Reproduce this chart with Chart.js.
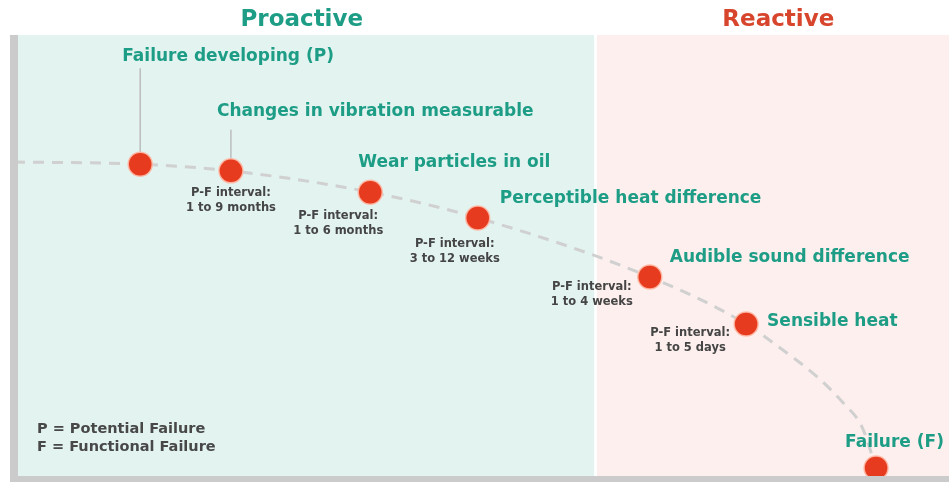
<!DOCTYPE html>
<html>
<head>
<meta charset="utf-8">
<script src="https://cdn.jsdelivr.net/npm/chart.js@4.4.1/dist/chart.umd.min.js"></script>
<style>
html, body { margin: 0; padding: 0; background: #fff; overflow: hidden; }
#pf { display: block; }
</style>
</head>
<body>
<canvas id="pf" width="949" height="482"></canvas>
<script>
// P-F curve, time runs 0-100 left to right, condition 0-100 bottom to top
const stageX = [13.5, 23.2, 38.1, 49.6, 68.0, 78.3, 92.2];
const stageY = [70.9, 69.4, 64.6, 58.8, 45.5, 34.9, 2.5];
const stageNames = ['Failure developing (P)', 'Changes in vibration measurable', 'Wear particles in oil',
  'Perceptible heat difference', 'Audible sound difference', 'Sensible heat', 'Failure (F)'];
const pfIntervals = [null, '1 to 9 months', '1 to 6 months', '3 to 12 weeks', '1 to 4 weeks', '1 to 5 days', null];
// dashed curve (stages plus a few points between them)
const curveX = [0, 13.5, 23.2, 38.1, 49.6, 68.0, 78.3, 82.2, 85.9, 88.7, 90.7, 92.2];
const curveY = [71.4, 70.9, 69.4, 64.6, 58.8, 45.5, 34.9, 29.1, 23.0, 17.1, 11.7, 2.5];
const phaseNames = ['Proactive', 'Reactive'];
const phaseFrom = [0, 62.2];
const phaseTo = [62.2, 100];
const legendLines = ['P = Potential Failure', 'F = Functional Failure'];

// layout / styling (px offsets from each point)
const TEAL = '#1d9d85';
const phaseFill = ['#e2f3f0', '#fcefed'];
const phaseInk = [TEAL, '#d7452c'];
const titleShift = [-3, 6];
const nameOffset = [[-18, -108], [-14, -59], [-12, -30], [22, -19], [20, -19], [21, -2], [-31, -25]];
const intervalOffset = [null, [0, 22], [-32, 24], [-23, 26], [-58, 10], [-56, 9], null];
const connector = [[-96, -12], [-41, -12], null, null, null, null, null];

const curve = curveX.map((x, i) => ({ x, y: curveY[i] }));
const stages = stageX.map((x, i) => ({ x, y: stageY[i] }));

const decor = {
  id: 'decor',
  beforeDraw(chart) {
    const { ctx, chartArea: a, scales: { x } } = chart;
    ctx.save();
    phaseNames.forEach((name, i) => {
      const l = x.getPixelForValue(phaseFrom[i]), r = x.getPixelForValue(phaseTo[i]);
      ctx.fillStyle = phaseFill[i];
      ctx.fillRect(l + (i ? 1.5 : 0), a.top, r - l - 1.5, a.bottom - a.top);
      ctx.fillStyle = phaseInk[i];
      ctx.font = 'bold 23px "DejaVu Sans"';
      ctx.textAlign = 'center';
      ctx.textBaseline = 'middle';
      ctx.fillText(name, (l + r) / 2 + titleShift[i], 20);
    });
    ctx.restore();
  },
  beforeDatasetsDraw(chart) {
    const { ctx, scales: { x, y } } = chart;
    ctx.save();
    ctx.strokeStyle = '#bdbdbd';
    ctx.lineWidth = 1.5;
    connector.forEach((c, i) => {
      if (!c) return;
      const px = x.getPixelForValue(stageX[i]), py = y.getPixelForValue(stageY[i]);
      ctx.beginPath();
      ctx.moveTo(px, py + c[0]);
      ctx.lineTo(px, py + c[1]);
      ctx.stroke();
    });
    ctx.restore();
  },
  afterDatasetsDraw(chart) {
    const { ctx, chartArea: a, scales: { x, y } } = chart;
    ctx.save();
    // axis bars
    ctx.fillStyle = '#cbcbcb';
    ctx.fillRect(a.left - 4, a.top, 8, a.bottom - a.top);
    ctx.fillRect(a.left - 4, a.bottom - 3, a.right - a.left + 4, 7);
    ctx.textBaseline = 'middle';
    stageNames.forEach((name, i) => {
      const px = x.getPixelForValue(stageX[i]), py = y.getPixelForValue(stageY[i]);
      ctx.fillStyle = TEAL;
      ctx.font = 'bold 17px "DejaVu Sans"';
      ctx.textAlign = 'left';
      ctx.fillText(name, px + nameOffset[i][0], py + nameOffset[i][1]);
      if (pfIntervals[i]) {
        const o = intervalOffset[i];
        ctx.fillStyle = '#454545';
        ctx.font = 'bold 11.5px "DejaVu Sans"';
        ctx.textAlign = 'center';
        ctx.fillText('P-F interval:', px + o[0], py + o[1]);
        ctx.fillText(pfIntervals[i], px + o[0], py + o[1] + 15);
      }
    });
    ctx.fillStyle = '#484848';
    ctx.font = 'bold 14.5px "DejaVu Sans"';
    ctx.textAlign = 'left';
    legendLines.forEach((t, i) => ctx.fillText(t, 37, 429 + i * 18));
    ctx.restore();
  }
};

new Chart(document.getElementById('pf'), {
  type: 'line',
  data: {
    datasets: [
      {
        label: 'Stages', data: stages, showLine: false, clip: false,
        pointRadius: 12, pointHoverRadius: 12,
        pointBackgroundColor: '#e63b1e', pointBorderColor: 'rgba(255,185,165,0.9)', pointBorderWidth: 1.5
      },
      {
        label: 'P-F curve', data: curve, pointRadius: 0,
        borderColor: '#d0d0d0', borderWidth: 3, borderDash: [11, 8],
        cubicInterpolationMode: 'monotone', fill: false
      }
    ]
  },
  options: {
    responsive: false,
    animation: false,
    layout: { autoPadding: false, padding: { left: 14, top: 35, right: 0, bottom: 3 } },
    plugins: { legend: { display: false }, tooltip: { enabled: false } },
    scales: {
      x: { type: 'linear', min: 0, max: 100, display: false },
      y: { min: 0, max: 100, display: false }
    }
  },
  plugins: [decor]
});
</script>
</body>
</html>
